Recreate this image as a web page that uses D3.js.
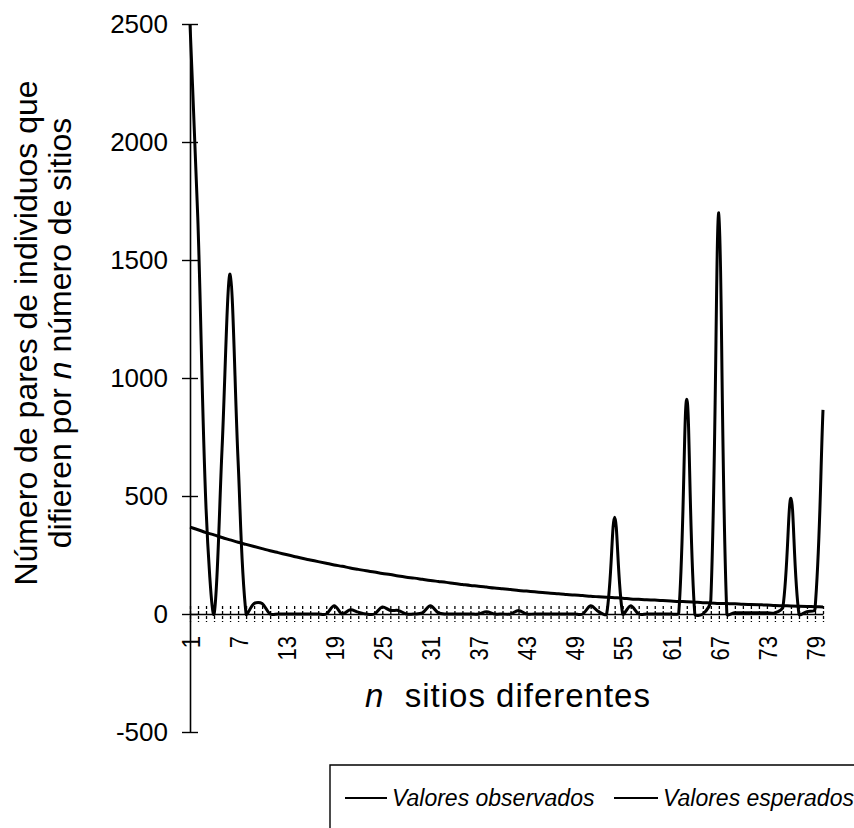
<!DOCTYPE html>
<html>
<head>
  <meta charset="utf-8">
  <script src="https://d3js.org/d3.v7.min.js"></script>
  <style>
    body { margin: 0; background: #fff; }
    text { font-family: "Liberation Sans", Arial, sans-serif; fill: #000; }
  </style>
</head>
<body>
<script>
  // categories: n sitios diferentes (1..80)
  var sitios = d3.range(1, 81);

  // tick labels shown on the x axis
  var xTickLabels = [1, 7, 13, 19, 25, 31, 37, 43, 49, 55, 61, 67, 73, 79];

  // y axis ticks
  var yTicks = [-500, 0, 500, 1000, 1500, 2000, 2500];

  // Valores observados
  var observados = [
    2500, 1650, 450, 0, 700, 1440, 650, 0, 45, 45,
    0, 0, 0, 0, 0, 0, 0, 0, 35, 0,
    18, 8, 0, 0, 30, 15, 15, 0, 0, 5,
    35, 5, 0, 0, 0, 0, 0, 10, 0, 0,
    0, 15, 0, 0, 0, 0, 0, 0, 0, 0,
    35, 10, 0, 410, 0, 35, 0, 0, 0, 0,
    0, 5, 910, 0, 0, 60, 1700, 0, 5, 5,
    5, 5, 5, 5, 30, 490, 0, 10, 20, 865
  ];

  // Valores esperados
  var esperados = [
    368, 357, 345, 335, 324, 314, 304, 295, 286, 277,
    268, 260, 252, 244, 236, 229, 222, 215, 208, 202,
    195, 189, 183, 178, 172, 167, 161, 156, 152, 147,
    142, 138, 134, 129, 125, 121, 118, 114, 110, 107,
    104, 100, 97, 94, 91, 88, 86, 83, 80, 78,
    75, 73, 71, 69, 67, 64, 62, 60, 59, 57,
    55, 53, 52, 50, 48, 47, 45, 44, 43, 41,
    40, 39, 38, 36, 35, 34, 33, 32, 31, 30
  ];

  var width = 854, height = 828;

  // spreadsheet-style smoothed line: tangent through the neighbours,
  // each control arm weighted by the length of its own segment
  function SmoothCurve(context) { this._context = context; }
  SmoothCurve.prototype = {
    areaStart: function () {},
    areaEnd: function () {},
    lineStart: function () { this._x = []; this._y = []; },
    point: function (px, py) { this._x.push(+px); this._y.push(+py); },
    lineEnd: function () {
      var xs = this._x, ys = this._y, n = xs.length, c = this._context;
      if (!n) return;
      c.moveTo(xs[0], ys[0]);
      function dist(i, j) { return Math.hypot(xs[j] - xs[i], ys[j] - ys[i]); }
      for (var i = 0; i < n - 1; i++) {
        var a = Math.max(i - 1, 0), b = i + 1, d = Math.min(i + 2, n - 1);
        var dPrev = dist(a, i), dCur = dist(i, b), dNext = dist(b, d);
        var w1 = dCur / ((dPrev + dCur) || 1);
        var w2 = dCur / ((dCur + dNext) || 1);
        var c1x = xs[i] + (xs[b] - xs[a]) * w1 / 3,
            c1y = ys[i] + (ys[b] - ys[a]) * w1 / 3,
            c2x = xs[b] - (xs[d] - xs[i]) * w2 / 3,
            c2y = ys[b] - (ys[d] - ys[i]) * w2 / 3;
        c.bezierCurveTo(c1x, c1y, c2x, c2y, xs[b], ys[b]);
      }
    }
  };
  function curveSmooth(context) { return new SmoothCurve(context); }

  var svg = d3.select("body").append("svg")
      .attr("width", width)
      .attr("height", height);

  var x = d3.scalePoint()
      .domain(sitios)
      .range([190, 823]);

  var y = d3.scaleLinear()
      .domain([-500, 2500])
      .range([732, 24]);

  // y axis
  var yAxis = d3.axisLeft(y)
      .tickValues(yTicks)
      .tickSize(0)
      .tickPadding(22)
      .tickFormat(function (d) { return String(d); });

  var gy = svg.append("g")
      .attr("transform", "translate(190,0)")
      .call(yAxis);
  gy.select(".domain").attr("stroke", "#000").attr("stroke-width", 1.6);
  gy.selectAll(".tick text")
      .style("font-size", "26px")
      .attr("font-family", null);
  gy.selectAll(".tick").append("line")
      .attr("x1", -8).attr("x2", 8)
      .attr("stroke", "#000").attr("stroke-width", 1.4);

  // x axis, crossing at zero
  var xAxis = d3.axisBottom(x)
      .tickSize(0)
      .tickPadding(0)
      .tickFormat(function (d) { return xTickLabels.indexOf(d) >= 0 ? d : ""; });

  var gx = svg.append("g")
      .attr("transform", "translate(0," + y(0) + ")")
      .call(xAxis);
  gx.select(".domain").attr("stroke", "#000").attr("stroke-width", 1.4);
  gx.selectAll(".tick").append("line")
      .attr("y1", -8).attr("y2", 8)
      .attr("stroke", "#000").attr("stroke-width", 1.3)
      .attr("stroke-dasharray", "3,2");
  gx.selectAll(".tick text")
      .attr("font-family", null)
      .style("font-size", "22px")
      .attr("text-anchor", "end")
      .attr("transform", "scale(1.2,1) rotate(-90)")
      .attr("x", -22)
      .attr("y", 0)
      .attr("dy", "0.35em");

  // lines
  var line = d3.line()
      .x(function (d, i) { return x(sitios[i]); })
      .y(function (d) { return y(d); })
      .curve(curveSmooth);

  svg.append("path")
      .datum(esperados)
      .attr("fill", "none")
      .attr("stroke", "#000")
      .attr("stroke-width", 3)
      .attr("d", line);

  svg.append("path")
      .datum(observados)
      .attr("fill", "none")
      .attr("stroke", "#000")
      .attr("stroke-width", 3)
      .attr("stroke-linejoin", "round")
      .attr("d", line);

  // y title
  var yt = svg.append("text")
      .attr("transform", "translate(37,333) rotate(-90)")
      .attr("text-anchor", "middle")
      .style("font-size", "32px");
  yt.append("tspan").attr("x", 0).attr("y", 0).text("Número de pares de individuos que");
  var yt2 = yt.append("tspan").attr("x", 0).attr("y", 34);
  yt2.append("tspan").text("difieren por ");
  yt2.append("tspan").style("font-style", "italic").text("n");
  yt2.append("tspan").text(" número de sitios");

  // x title
  var xt = svg.append("text")
      .attr("x", 508)
      .attr("y", 707)
      .attr("text-anchor", "middle")
      .style("font-size", "33px")
      .style("letter-spacing", "1px");
  xt.append("tspan").style("font-style", "italic").text("n");
  xt.append("tspan").attr("xml:space", "preserve").text("  sitios diferentes");

  // legend
  var leg = svg.append("g");
  leg.append("path")
      .attr("d", "M330,828V765H854")
      .attr("fill", "none")
      .attr("stroke", "#000")
      .attr("stroke-width", 1.4);

  var legItems = [
    { name: "Valores observados", x0: 345, x1: 387 },
    { name: "Valores esperados", x0: 614, x1: 658 }
  ];
  legItems.forEach(function (d) {
    leg.append("line")
        .attr("x1", d.x0).attr("x2", d.x1)
        .attr("y1", 798).attr("y2", 798)
        .attr("stroke", "#000").attr("stroke-width", 2);
    leg.append("text")
        .attr("x", d.x1 + 5)
        .attr("y", 806)
        .style("font-size", "23px")
        .style("font-style", "italic")
        .text(d.name);
  });
</script>
</body>
</html>
